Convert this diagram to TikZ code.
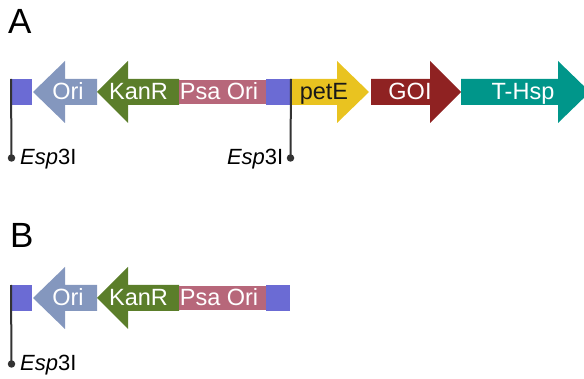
\documentclass[tikz,border=0pt]{standalone}
\usepackage{fontspec}
\setmainfont{Liberation Sans}
\definecolor{sqpurple}{HTML}{6B6BD4}
\definecolor{oriblue}{HTML}{8497BE}
\definecolor{kangreen}{HTML}{5B7E2A}
\definecolor{psapink}{HTML}{B7677A}
\definecolor{peteyellow}{HTML}{E9C320}
\definecolor{goired}{HTML}{8F2222}
\definecolor{hspteal}{HTML}{00968A}
\definecolor{pinline}{HTML}{333333}
\newcommand\leftgene[5]{% tip, head base, body end, yc, colour
  \fill[#5] (#1,#4) -- (#2,#4-31) -- (#2,#4-13) -- (#3,#4-13) -- (#3,#4+13) -- (#2,#4+13) -- (#2,#4+31) -- cycle;}
\newcommand\rightgene[5]{% body start, head base, tip, yc, colour
  \fill[#5] (#1,#4-13) -- (#2,#4-13) -- (#2,#4-31) -- (#3,#4) -- (#2,#4+31) -- (#2,#4+13) -- (#1,#4+13) -- cycle;}
\begin{document}
\begin{tikzpicture}[x=1pt,y=-1pt,
  genelbl/.style={text=white,font=\fontsize{23.5}{23.5}\selectfont,inner sep=0pt,anchor=base},
  panellbl/.style={font=\fontsize{35}{35}\selectfont,inner sep=0pt,anchor=base west},
  sitelbl/.style={font=\fontsize{22}{22}\selectfont,inner sep=0pt},
  pin/.style={draw=pinline,line width=2pt},
  pindot/.style={circle,fill=pinline,inner sep=0pt,minimum size=7.5pt}]
\useasboundingbox (0,0) rectangle (584,379);
\clip (0,0) rectangle (584,379);
% panel labels
\node[panellbl] (labA) at (8,34) {A};
\node[panellbl] (labB) at (10,248) {B};
% shared part for panels A and B
\foreach \yc/\p in {92/A,298/B}{
  \fill[sqpurple] (10,\yc-13) rectangle (32,\yc+13);
  \leftgene{33}{65}{97}{\yc}{oriblue}
  \leftgene{97}{128}{179}{\yc}{kangreen}
  \fill[psapink] (179,\yc-12) rectangle (266,\yc+12);
  \fill[sqpurple] (266,\yc-13) rectangle (290,\yc+13);
  \node[genelbl] (ori\p) at (68,\yc+7.5) {Ori};
  \node[genelbl] (kan\p) at (138.5,\yc+7.5) {KanR};
  \node[genelbl] (psa\p) at (219,\yc+7.5) {Psa Ori};
  \coordinate (sqtop\p) at (11,\yc-13);
  \node[pindot] (dot\p) at (11.5,\yc+66) {};
  \draw[pin] (sqtop\p) -- (dot\p.center);
  \node[sitelbl,anchor=base west] (site\p) at (20,\yc+72.5) {\textit{Esp}3I};
}
% panel A only
\rightgene{290}{337}{369}{92}{peteyellow}
\rightgene{371}{430}{461}{92}{goired}
\rightgene{461}{558}{590}{92}{hspteal}
\node[genelbl,text=black!90] (pete) at (324,99.5) {petE};
\node[genelbl] (goi) at (410,99.5) {GOI};
\node[genelbl] (hsp) at (523,99.5) {T-Hsp};
\coordinate (sqtopR) at (291,79);
\node[pindot] (dotR) at (290.5,158) {};
\draw[pin] (sqtopR) -- (dotR.center);
\node[sitelbl,anchor=base east] (siteR) at (283.5,164.5) {\textit{Esp}3I};
\end{tikzpicture}
\end{document}
